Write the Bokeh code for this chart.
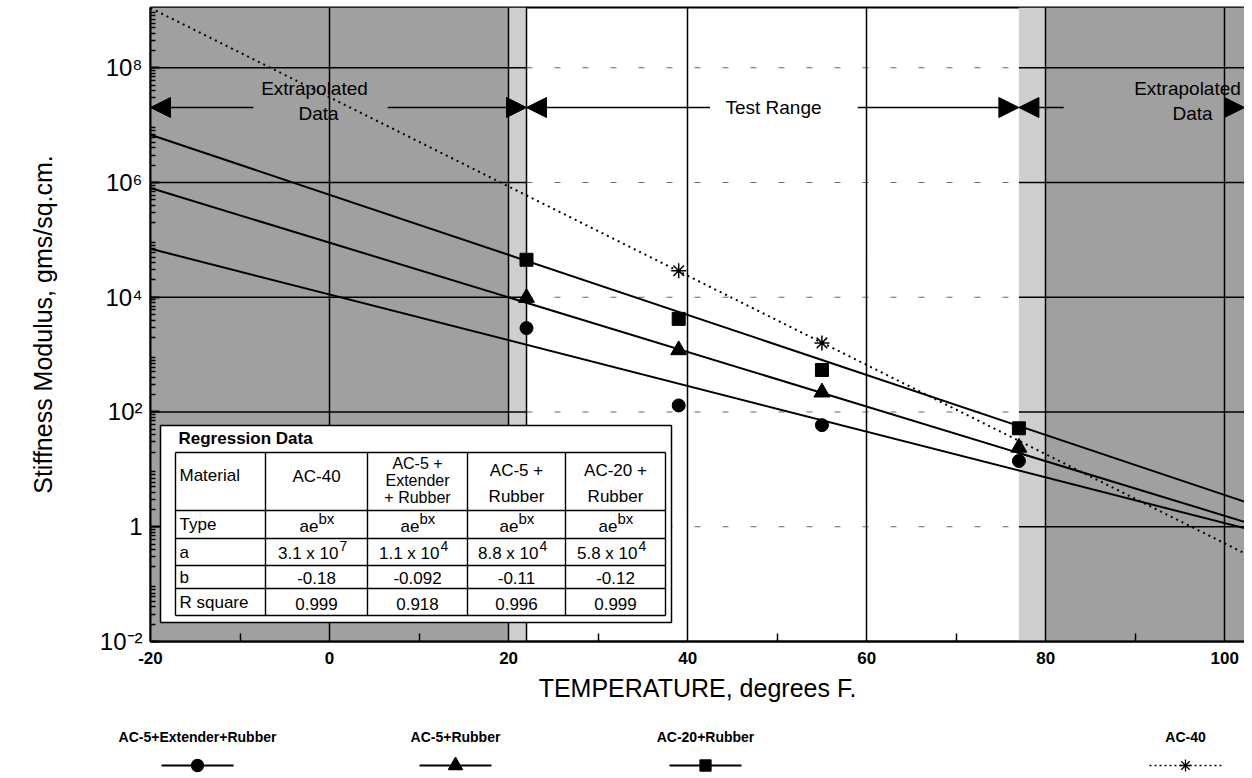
from bokeh.plotting import figure
from bokeh.models import Range1d, LinearScale, FixedTicker, Arrow, NormalHead, CustomJSTickFormatter
from bokeh.layouts import column
from bokeh.embed import file_html
from bokeh.resources import INLINE
from bokeh.core.properties import value

FONT = "Liberation Sans"

# ---------------- data ----------------
test_temps = [22, 39, 55, 77]
ac5_ext_rubber = [2.9e3, 1.3e2, 59, 14]
ac5_rubber = [9.8e3, 1.2e3, 2.2e2, 24]
ac20_rubber = [4.5e4, 4.2e3, 5.4e2, 52]
ac40_temps = [39, 55]
ac40 = [2.9e4, 1.6e3]

# regression lines (straight on the log axis): value at both ends
fit_temps = [-20, 104]
fit_ac5_ext_rubber = [7.0e4, 0.8]
fit_ac5_rubber = [8.0e5, 1.0]
fit_ac20_rubber = [6.8e6, 2.2]
fit_ac40 = [1.1e9, 0.25]

test_range = [22, 77]
x_ticks = [-20, 0, 20, 40, 60, 80, 100]
x_minor = [-10, 10, 30, 50, 70, 90]
y_ticks = [1e-2, 1, 1e2, 1e4, 1e6, 1e8]
y_tick_pow = [-2, 0, 2, 4, 6, 8]
y_tick_base = ["10", "1", "10", "10", "10", "10"]
y_tick_exp = ["-2", "", "2", "4", "6", "8"]
y_minor = [k * 10.0 ** d for d in range(-2, 9) for k in range(2, 10)]

# regression table
tbl_materials = ["AC-40", "AC-5 +|Extender|+ Rubber", "AC-5 +|Rubber", "AC-20 +|Rubber"]
tbl_a_mant = ["3.1 x 10", "1.1 x 10", "8.8 x 10", "5.8 x 10"]
tbl_a_exp = ["7", "4", "4", "4"]
tbl_b = ["-0.18", "-0.092", "-0.11", "-0.12"]
tbl_r2 = ["0.999", "0.918", "0.996", "0.999"]

legend_labels = ["AC-5+Extender+Rubber", "AC-5+Rubber", "AC-20+Rubber", "AC-40"]

X0, X1 = -20, 102.2
Y0, Y1 = 1e-2, 10 ** 9.05

# ---------------- main figure ----------------
p = figure(width=1244, height=706, x_range=Range1d(X0, X1), y_range=Range1d(Y0, Y1),
           y_axis_type="log", output_backend="svg", toolbar_location=None,
           min_border_left=150, min_border_right=0, min_border_top=7, min_border_bottom=65)
p.background_fill_color = "white"
p.border_fill_color = "white"
p.outline_line_color = "black"
p.outline_line_width = 2

# page-pixel helper ranges (for table & annotation layout)
p.extra_x_ranges = {"px": Range1d(150, 1244)}
p.extra_y_ranges = {"py": Range1d(641, 7)}
p.extra_x_scales = {"px": LinearScale()}
p.extra_y_scales = {"py": LinearScale()}

# shaded extrapolation regions
dark = "#a0a0a0"
light = "#cfcfcf"
for l, r, c in [(X0, 20, dark), (20, test_range[0], light), (test_range[1], 80, light), (80, 104, dark)]:
    q = p.quad(left=l, right=r, bottom=Y0, top=Y1, fill_color=c, line_color=None)
    q.level = "image"

# grids
p.xgrid.ticker = FixedTicker(ticks=x_ticks)
p.xgrid.grid_line_color = "black"
p.xgrid.grid_line_width = 1.5
p.ygrid.grid_line_color = None

for t in y_ticks:
    p.segment(x0=X0, y0=t, x1=test_range[0], y1=t, line_color="black", line_width=1.3)
    p.segment(x0=test_range[1], y0=t, x1=104, y1=t, line_color="black", line_width=1.3)
    p.segment(x0=test_range[0], y0=t, x1=test_range[1], y1=t, line_color="black",
              line_width=1, line_dash="6 22", line_alpha=0.6)
p.segment(x0=test_range[0], y0=Y0, x1=test_range[0], y1=Y1, line_color="black", line_width=1.5)

# axes
xa = p.xaxis[0]
xa.ticker = FixedTicker(ticks=x_ticks, minor_ticks=x_minor)
xa.formatter = CustomJSTickFormatter(code="return String(tick)")
xa.axis_line_width = 2
xa.major_tick_in = 0
xa.major_tick_out = 0
xa.minor_tick_in = 8
xa.minor_tick_out = 0
xa.minor_tick_line_width = 1.5
xa.major_label_text_font = FONT
xa.major_label_text_font_style = "bold"
xa.major_label_text_font_size = "17px"
xa.major_label_text_color = "black"
xa.major_label_standoff = 10
xa.axis_label = "TEMPERATURE, degrees F."
xa.axis_label_text_font = FONT
xa.axis_label_text_font_style = "normal"
xa.axis_label_text_font_size = "25px"
xa.axis_label_text_color = "black"
xa.axis_label_standoff = 7

sup = str.maketrans("-0123456789", "⁻⁰¹²³⁴⁵⁶⁷⁸⁹")
y_labels = [b + e.translate(sup) for b, e in zip(y_tick_base, y_tick_exp)]

ya = p.yaxis[0]
ya.ticker = FixedTicker(ticks=y_ticks, minor_ticks=y_minor)
ya.formatter = CustomJSTickFormatter(args=dict(pows=y_tick_pow, labels=y_labels), code="""
    const e = Math.round(Math.log10(tick));
    const i = pows.indexOf(e);
    return i >= 0 ? labels[i] : "";
""")
ya.axis_line_width = 2
ya.major_tick_in = 9
ya.major_tick_out = 0
ya.major_tick_line_width = 2
ya.minor_tick_in = 5
ya.minor_tick_out = 0
ya.minor_tick_line_width = 1.3
ya.major_label_text_font = FONT
ya.major_label_text_font_size = "24px"
ya.major_label_text_color = "black"
ya.major_label_standoff = 8
ya.axis_label = "Stiffness Modulus, gms/sq.cm."
ya.axis_label_text_font = FONT
ya.axis_label_text_font_style = "normal"
ya.axis_label_text_font_size = "25px"
ya.axis_label_text_color = "black"
ya.axis_label_standoff = 40

# regression lines
p.line(fit_temps, fit_ac5_ext_rubber, line_color="black", line_width=2)
p.line(fit_temps, fit_ac5_rubber, line_color="black", line_width=2)
p.line(fit_temps, fit_ac20_rubber, line_color="black", line_width=2)
p.line(fit_temps, fit_ac40, line_color="black", line_width=2, line_dash="2 4")

# markers
p.scatter(test_temps, ac5_ext_rubber, marker="circle", size=13, color="black")
p.scatter(test_temps, ac5_rubber, marker="triangle", size=16, color="black")
p.scatter(test_temps, ac20_rubber, marker="square", size=13, color="black")
p.scatter(ac40_temps, ac40, marker="asterisk", size=15, line_color="black", line_width=1.5)

# ---------------- regression table (page-pixel layout) ----------------
kw = dict(x_range_name="px", y_range_name="py")
p.quad(left=160, right=671, top=425, bottom=622, fill_color="white",
       line_color="black", line_width=1.5, **kw)
gx = [175, 265, 367, 467, 565, 665]
gy = [452, 510, 538, 565, 588, 615]
p.segment(x0=[gx[0]] * len(gy), y0=gy, x1=[gx[-1]] * len(gy), y1=gy,
          line_color="black", line_width=1.4, **kw)
p.segment(x0=gx, y0=[gy[0]] * len(gx), x1=gx, y1=[gy[-1]] * len(gx),
          line_color="black", line_width=1.4, **kw)

tfont = dict(text_font=value(FONT), text_color="black", text_baseline="middle")
p.text(x=[178], y=[438], text=["Regression Data"], text_align="left",
       text_font_style="bold", text_font_size="17px", **tfont, **kw)
p.text(x=[179] * 5, y=[475, 524, 552, 577, 602],
       text=["Material", "Type", "a", "b", "R square"], text_align="left",
       text_font_size="17px", **tfont, **kw)

cx = [(gx[i] + gx[i + 1]) / 2 for i in range(1, 5)]
hx, hy, ht = [], [], []
for c, m in zip(cx, tbl_materials):
    parts = m.split("|")
    ys = {1: [476], 2: [470, 496], 3: [463, 480, 497]}[len(parts)]
    for s, yy in zip(parts, ys):
        hx.append(c); hy.append(yy); ht.append(s)
p.text(x=hx[:1], y=hy[:1], text=ht[:1], text_align="center", text_font_size="17px", **tfont, **kw)
p.text(x=hx[1:4], y=hy[1:4], text=ht[1:4], text_align="center", text_font_size="16px", **tfont, **kw)
p.text(x=hx[4:], y=hy[4:], text=ht[4:], text_align="center", text_font_size="17px", **tfont, **kw)

# Type row: ae^bx
p.text(x=[c + 2 for c in cx], y=[526] * 4, text=["ae"] * 4, text_align="right",
       text_font_size="17px", **tfont, **kw)
p.text(x=[c + 2 for c in cx], y=[518] * 4, text=["bx"] * 4, text_align="left",
       text_font_size="15px", **tfont, **kw)
# a row
p.text(x=[c + 22 for c in cx], y=[553] * 4, text=tbl_a_mant, text_align="right",
       text_font_size="17px", **tfont, **kw)
p.text(x=[c + 23 for c in cx], y=[545] * 4, text=tbl_a_exp, text_align="left",
       text_font_size="14px", **tfont, **kw)
p.text(x=cx, y=[577] * 4, text=tbl_b, text_align="center", text_font_size="17px", **tfont, **kw)
p.text(x=cx, y=[603] * 4, text=tbl_r2, text_align="center", text_font_size="17px", **tfont, **kw)

# ---------------- range annotations ----------------
p.text(x=[314, 318, 1187, 1192, 773], y=[88, 113, 88, 113, 107],
       text=["Extrapolated", "Data", "Extrapolated", "Data", "Test Range"],
       text_align="center", text_font_size="19px", **tfont, **kw)

def arrow(xs, xe):
    p.add_layout(Arrow(x_start=xs, y_start=107, x_end=xe, y_end=107, y_range_name="py",
                       line_color="black", line_width=1.5,
                       end=NormalHead(size=20, fill_color="black", line_color="black")))

arrow(-8.5, X0)
arrow(6.5, test_range[0])
arrow(42.5, test_range[0])
arrow(59, test_range[1])
arrow(82, test_range[1])
arrow(100, X1)

# ---------------- legend figure (labels as a top axis, samples as glyphs) ----------------
legend_x = [197, 455, 705, 1185]
leg = figure(width=1244, height=68, x_range=Range1d(150, 1244), y_range=Range1d(774, 754),
             x_axis_location="above", y_axis_location=None, toolbar_location=None,
             output_backend="svg", min_border_left=0, min_border_right=0,
             min_border_bottom=0, min_border_top=48)
leg.outline_line_color = None
for g in leg.grid:
    g.visible = False
la = leg.xaxis[0]
la.ticker = FixedTicker(ticks=legend_x)
la.formatter = CustomJSTickFormatter(args=dict(xs=legend_x, labels=legend_labels), code="""
    const i = xs.indexOf(tick);
    return i >= 0 ? labels[i] : "";
""")
la.axis_line_color = None
la.major_tick_line_color = None
la.minor_tick_line_color = None
la.major_label_standoff = 4
la.major_label_text_font = FONT
la.major_label_text_font_style = "bold"
la.major_label_text_font_size = "14px"
la.major_label_text_color = "black"

markers = ["circle", "triangle", "square", "asterisk"]
sizes = [12, 14, 11, 12]
for lx, mk, sz in zip(legend_x, markers, sizes):
    dash = "2 3" if mk == "asterisk" else "solid"
    lw = 1.5 if mk == "asterisk" else 2
    leg.line([lx - 36, lx + 36], [765, 765], line_color="black", line_width=lw, line_dash=dash)
    leg.scatter([lx], [765], marker=mk, size=sz, color="black", line_width=1.3)

layout = column(p, leg, spacing=0)
open("out.html", "w").write(file_html(layout, INLINE))
